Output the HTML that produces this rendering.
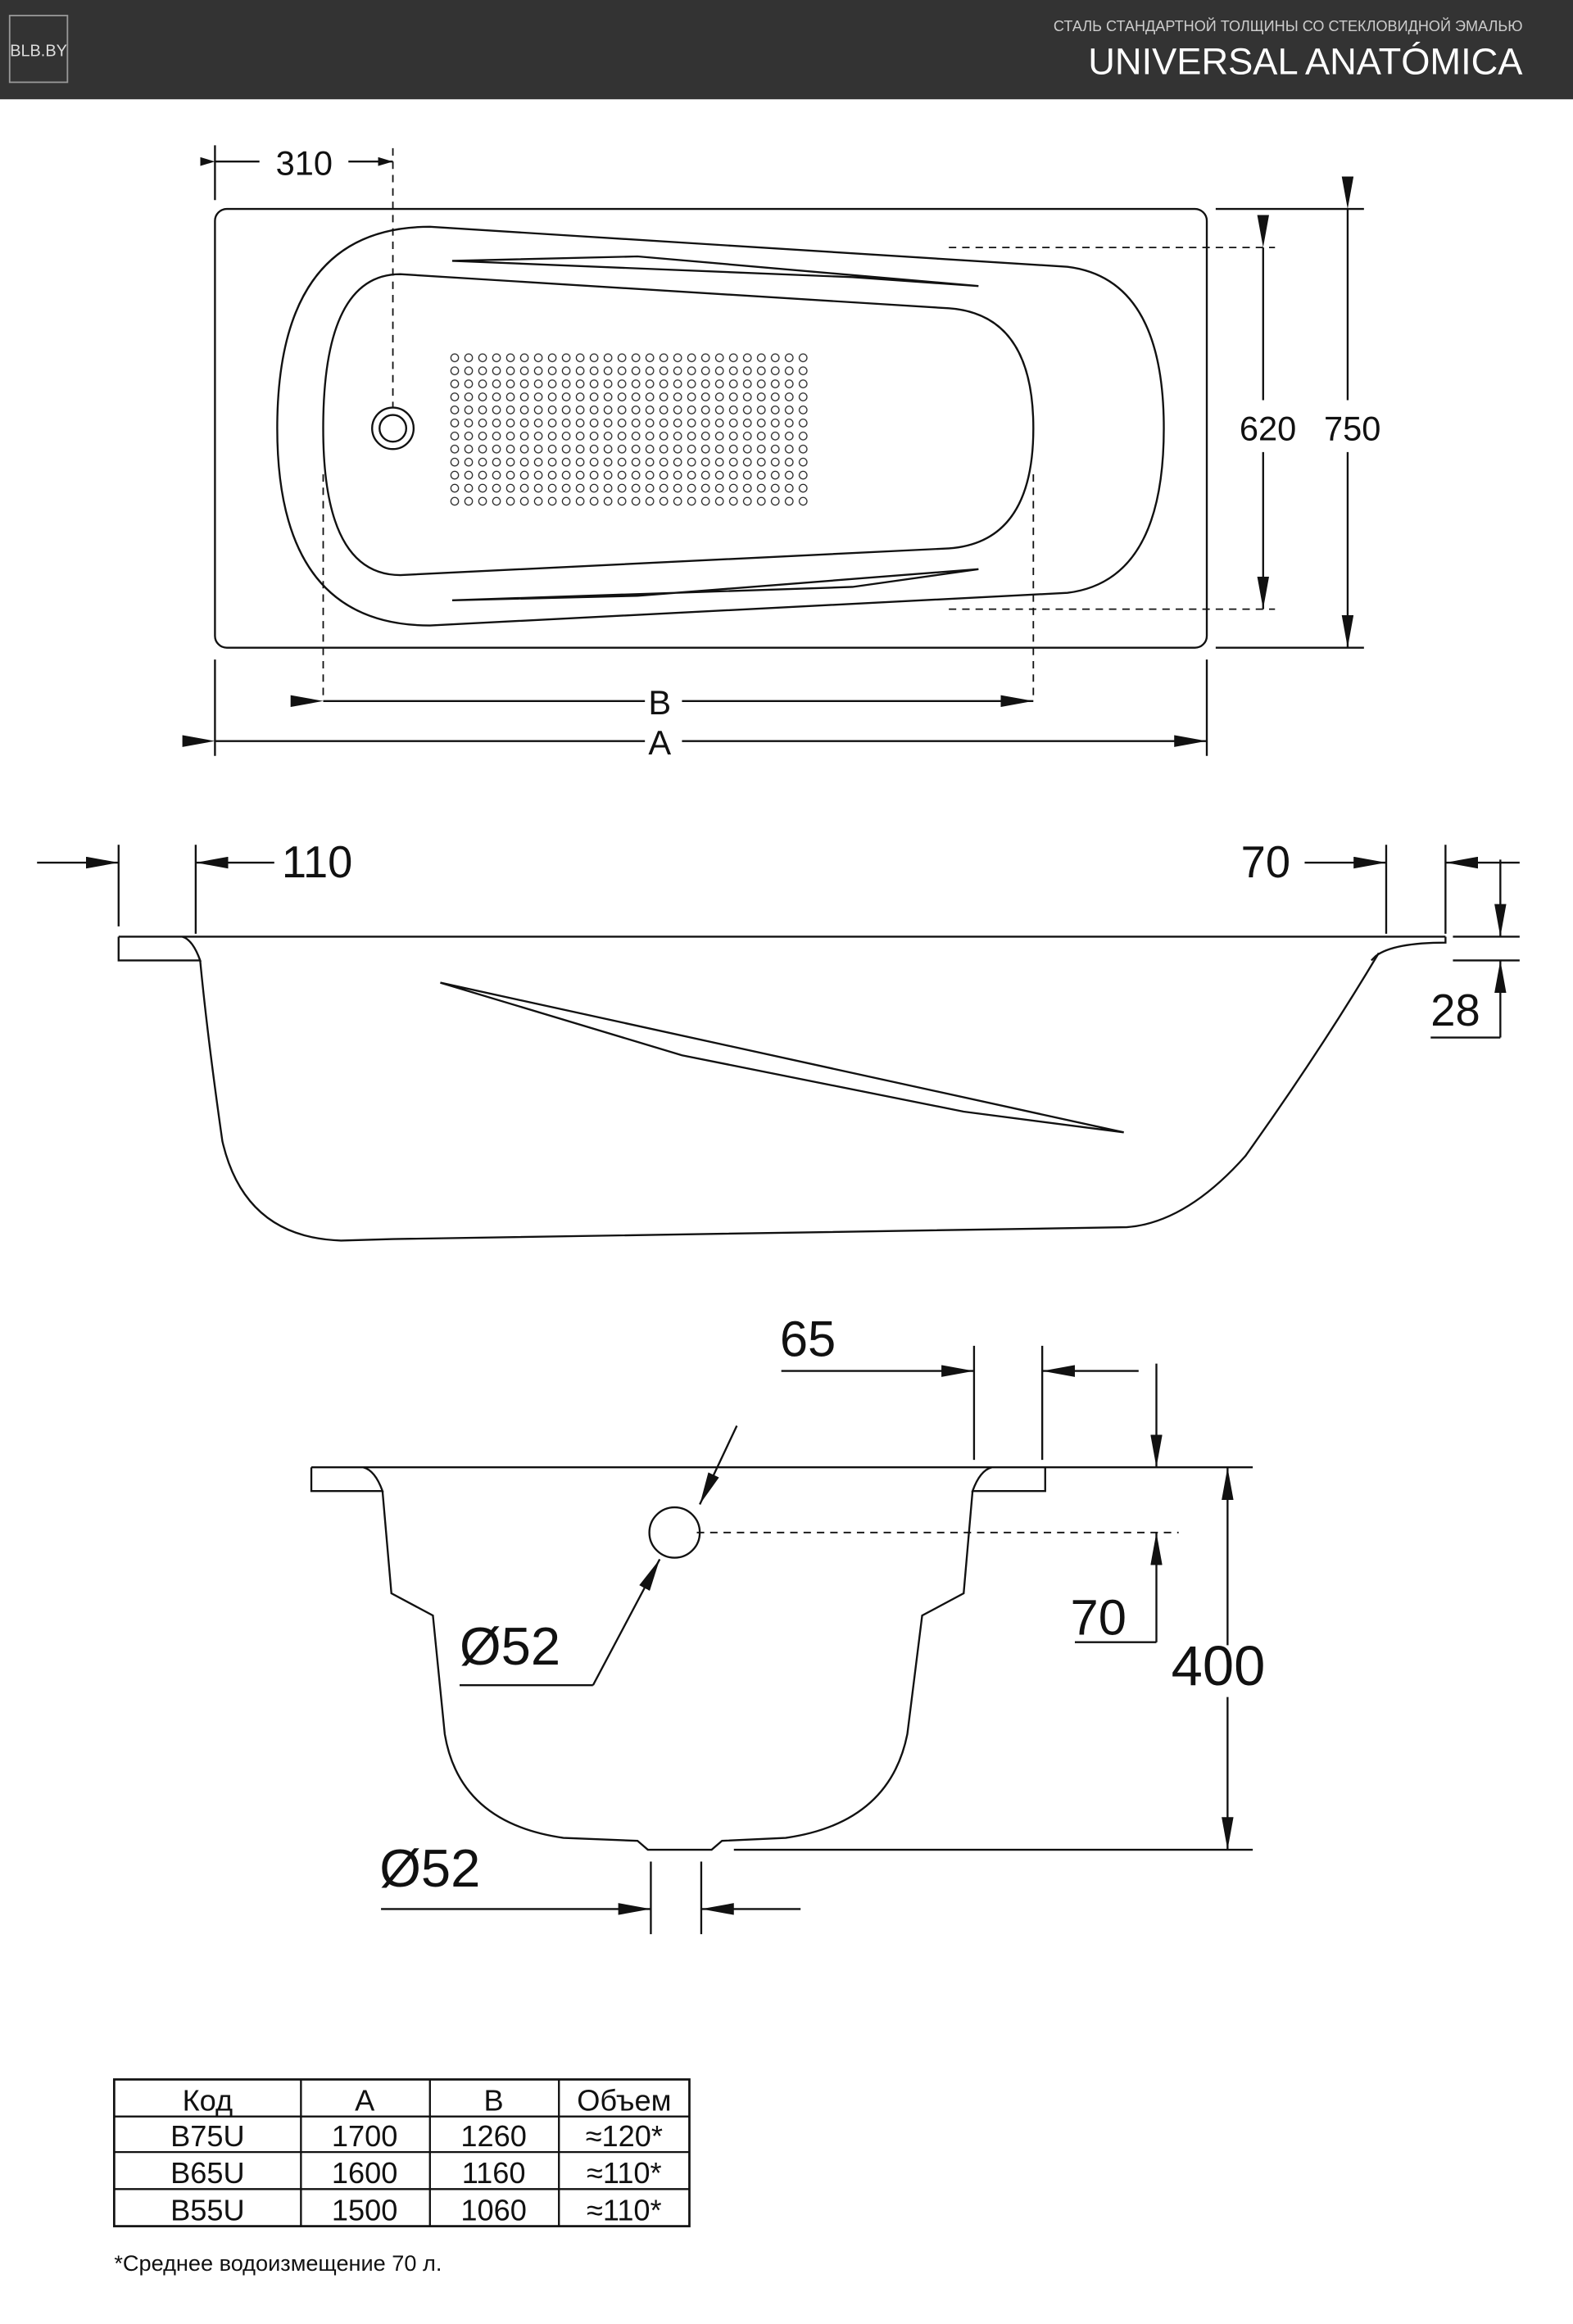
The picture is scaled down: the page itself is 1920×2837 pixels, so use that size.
<!DOCTYPE html>
<html><head><meta charset="utf-8"><style>
html,body{margin:0;padding:0;background:#fff}
svg{display:block}
text{font-family:"Liberation Sans","DejaVu Sans",sans-serif;fill:#111}
</style></head><body>
<svg width="1920" height="2837" viewBox="0 0 1061 1568" preserveAspectRatio="none" xmlns="http://www.w3.org/2000/svg">
<defs>
<pattern id="dots" x="302" y="237" width="9.4" height="8.8" patternUnits="userSpaceOnUse">
<circle cx="4.7" cy="4.4" r="2.6" fill="none" stroke="#222" stroke-width="0.7"/>
</pattern>
<marker id="ar" markerWidth="10" markerHeight="6" refX="10" refY="3" orient="auto" markerUnits="userSpaceOnUse"><path d="M0,0 L10,3 L0,6 Z" fill="#111"/></marker>
<marker id="arB" markerWidth="22" markerHeight="8" refX="22" refY="4" orient="auto" markerUnits="userSpaceOnUse"><path d="M0,0 L22,4 L0,8 Z" fill="#111"/></marker>
</defs>
<!-- header -->
<rect x="0" y="0" width="1061" height="67" fill="#333"/>
<rect x="6.5" y="10.5" width="39" height="45" fill="none" stroke="#999" stroke-width="1"/>
<text x="26" y="38" font-size="11" text-anchor="middle" style="fill:#ddd">BLB.BY</text>
<text x="1027" y="21" font-size="10" text-anchor="end" style="fill:#ccc">СТАЛЬ СТАНДАРТНОЙ ТОЛЩИНЫ СО СТЕКЛОВИДНОЙ ЭМАЛЬЮ</text>
<text x="1027" y="50" font-size="25" text-anchor="end" style="fill:#fff">UNIVERSAL ANATÓMICA</text>

<g fill="none" stroke="#111" stroke-width="1.3">
<!-- top view -->
<rect x="145" y="141" width="669" height="296" rx="8"/>
<path d="M290,153 L720,180 Q785,188 785,289 Q785,392 720,400 L290,422 Q187,422 187,289 Q187,153 290,153 Z"/>
<path d="M270,185 L640,208 Q697,212 697,289 Q697,366 640,370 L270,388 Q218,388 218,289 Q218,185 270,185 Z"/>
<rect x="302" y="237" width="244" height="106" fill="url(#dots)" stroke="none"/>
<circle cx="265" cy="289" r="14"/><circle cx="265" cy="289" r="9"/>
<path d="M305,176 L430,173 L660,193 L575,187 Z"/>
<path d="M305,405 L430,402 L660,384 L575,396 Z"/>
<g stroke-dasharray="5,4" stroke-width="1">
<line x1="265" y1="100" x2="265" y2="275"/>
<line x1="218" y1="320" x2="218" y2="470"/>
<line x1="697" y1="320" x2="697" y2="470"/>
<line x1="640" y1="167" x2="860" y2="167"/>
<line x1="640" y1="411" x2="860" y2="411"/>
</g>
<line x1="145" y1="98" x2="145" y2="135"/>
<line x1="145" y1="109" x2="175" y2="109" marker-start="url(#ar)"/>
<line x1="235" y1="109" x2="265" y2="109" marker-end="url(#ar)"/>
<line x1="145" y1="445" x2="145" y2="510"/>
<line x1="814" y1="445" x2="814" y2="510"/>
<line x1="218" y1="473" x2="435" y2="473" marker-start="url(#arB)"/>
<line x1="460" y1="473" x2="697" y2="473" marker-end="url(#arB)"/>
<line x1="145" y1="500" x2="435" y2="500" marker-start="url(#arB)"/>
<line x1="460" y1="500" x2="814" y2="500" marker-end="url(#arB)"/>
<line x1="820" y1="141" x2="920" y2="141"/>
<line x1="820" y1="437" x2="920" y2="437"/>
<line x1="852" y1="167" x2="852" y2="270" marker-start="url(#arB)"/>
<line x1="852" y1="305" x2="852" y2="411" marker-end="url(#arB)"/>
<line x1="909" y1="141" x2="909" y2="270" marker-start="url(#arB)"/>
<line x1="909" y1="305" x2="909" y2="437" marker-end="url(#arB)"/>

<!-- side view -->
<line x1="80" y1="632" x2="975" y2="632"/>
<path d="M80,632 L80,648 L135,648 Q130,634 123,632"/>
<path d="M975,632 L975,636 Q940,636 928,645 L925,648"/>
<path d="M135,648 Q140,700 150,770 Q165,835 230,837 L265,836 L760,828 Q800,825 840,780 Q890,710 930,643"/>
<path d="M297,663 L460,712 L650,750 L758,764 Z"/>
<line x1="80" y1="570" x2="80" y2="625"/>
<line x1="132" y1="570" x2="132" y2="630"/>
<line x1="25" y1="582" x2="80" y2="582" marker-end="url(#arB)"/>
<line x1="185" y1="582" x2="132" y2="582" marker-end="url(#arB)"/>
<line x1="935" y1="570" x2="935" y2="630"/>
<line x1="975" y1="570" x2="975" y2="630"/>
<line x1="880" y1="582" x2="935" y2="582" marker-end="url(#arB)"/>
<line x1="1025" y1="582" x2="975" y2="582" marker-end="url(#arB)"/>
<line x1="980" y1="632" x2="1025" y2="632"/>
<line x1="980" y1="648" x2="1025" y2="648"/>
<line x1="1012" y1="580" x2="1012" y2="632" marker-end="url(#arB)"/>
<line x1="1012" y1="700" x2="1012" y2="648" marker-end="url(#arB)"/>
<line x1="965" y1="700" x2="1012" y2="700"/>

<!-- section view -->
<line x1="210" y1="990" x2="845" y2="990"/>
<path d="M210,990 L210,1006 L258,1006 Q253,992 245,990"/>
<path d="M705,990 L705,1006 L656,1006 Q661,992 669,990"/>
<path d="M258,1006 L264,1075 L292,1090 L300,1170 Q310,1230 380,1240 L430,1242 L437,1248 L480,1248 L487,1242 L530,1240 Q600,1230 612,1170 L622,1090 L650,1075 L656,1006"/>
<circle cx="455" cy="1034" r="17"/>
<line x1="470" y1="1034" x2="795" y2="1034" stroke-dasharray="5,4" stroke-width="1"/>
<line x1="497" y1="962" x2="472" y2="1015" marker-end="url(#arB)"/>
<line x1="400" y1="1137" x2="445" y2="1052" marker-end="url(#arB)"/>
<line x1="310" y1="1137" x2="400" y2="1137"/>
<line x1="657" y1="908" x2="657" y2="985"/>
<line x1="703" y1="908" x2="703" y2="985"/>
<line x1="527" y1="925" x2="657" y2="925" marker-end="url(#arB)"/>
<line x1="768" y1="925" x2="703" y2="925" marker-end="url(#arB)"/>
<line x1="780" y1="920" x2="780" y2="990" marker-end="url(#arB)"/>
<line x1="780" y1="1108" x2="780" y2="1034" marker-end="url(#arB)"/>
<line x1="725" y1="1108" x2="780" y2="1108"/>
<line x1="828" y1="1110" x2="828" y2="990" marker-end="url(#arB)"/>
<line x1="828" y1="1145" x2="828" y2="1248" marker-end="url(#arB)"/>
<line x1="495" y1="1248" x2="845" y2="1248"/>
<line x1="439" y1="1256" x2="439" y2="1305"/>
<line x1="473" y1="1256" x2="473" y2="1305"/>
<line x1="257" y1="1288" x2="439" y2="1288" marker-end="url(#arB)"/>
<line x1="540" y1="1288" x2="473" y2="1288" marker-end="url(#arB)"/>

<!-- table -->
<rect x="77" y="1403" width="388" height="99" stroke-width="1.5"/>
<line x1="77" y1="1428" x2="465" y2="1428"/>
<line x1="77" y1="1452" x2="465" y2="1452"/>
<line x1="77" y1="1477" x2="465" y2="1477"/>
<line x1="203" y1="1403" x2="203" y2="1502"/>
<line x1="290" y1="1403" x2="290" y2="1502"/>
<line x1="377" y1="1403" x2="377" y2="1502"/>
</g>
<g font-size="23">
<text x="186" y="118">310</text>
<text x="445" y="482" text-anchor="middle">B</text>
<text x="445" y="509" text-anchor="middle">A</text>
<text x="836" y="297">620</text>
<text x="893" y="297">750</text>
</g>
<g font-size="30">
<text x="190" y="592">110</text>
<text x="837" y="592">70</text>
<text x="965" y="692">28</text>
<text x="526" y="915" font-size="34">65</text>
<text x="310" y="1123" font-size="36">Ø52</text>
<text x="722" y="1103" font-size="34">70</text>
<text x="790" y="1137" font-size="38">400</text>
<text x="256" y="1273" font-size="36">Ø52</text>
</g>
<g font-size="20" text-anchor="middle">
<text x="140" y="1424">Код</text><text x="246" y="1424">A</text><text x="333" y="1424">B</text><text x="421" y="1424">Объем</text>
<text x="140" y="1448">B75U</text><text x="246" y="1448">1700</text><text x="333" y="1448">1260</text><text x="421" y="1448">≈120*</text>
<text x="140" y="1473">B65U</text><text x="246" y="1473">1600</text><text x="333" y="1473">1160</text><text x="421" y="1473">≈110*</text>
<text x="140" y="1498">B55U</text><text x="246" y="1498">1500</text><text x="333" y="1498">1060</text><text x="421" y="1498">≈110*</text>
</g>
<text x="77" y="1532" font-size="15">*Среднее водоизмещение 70 л.</text>
</svg>
</body></html>
